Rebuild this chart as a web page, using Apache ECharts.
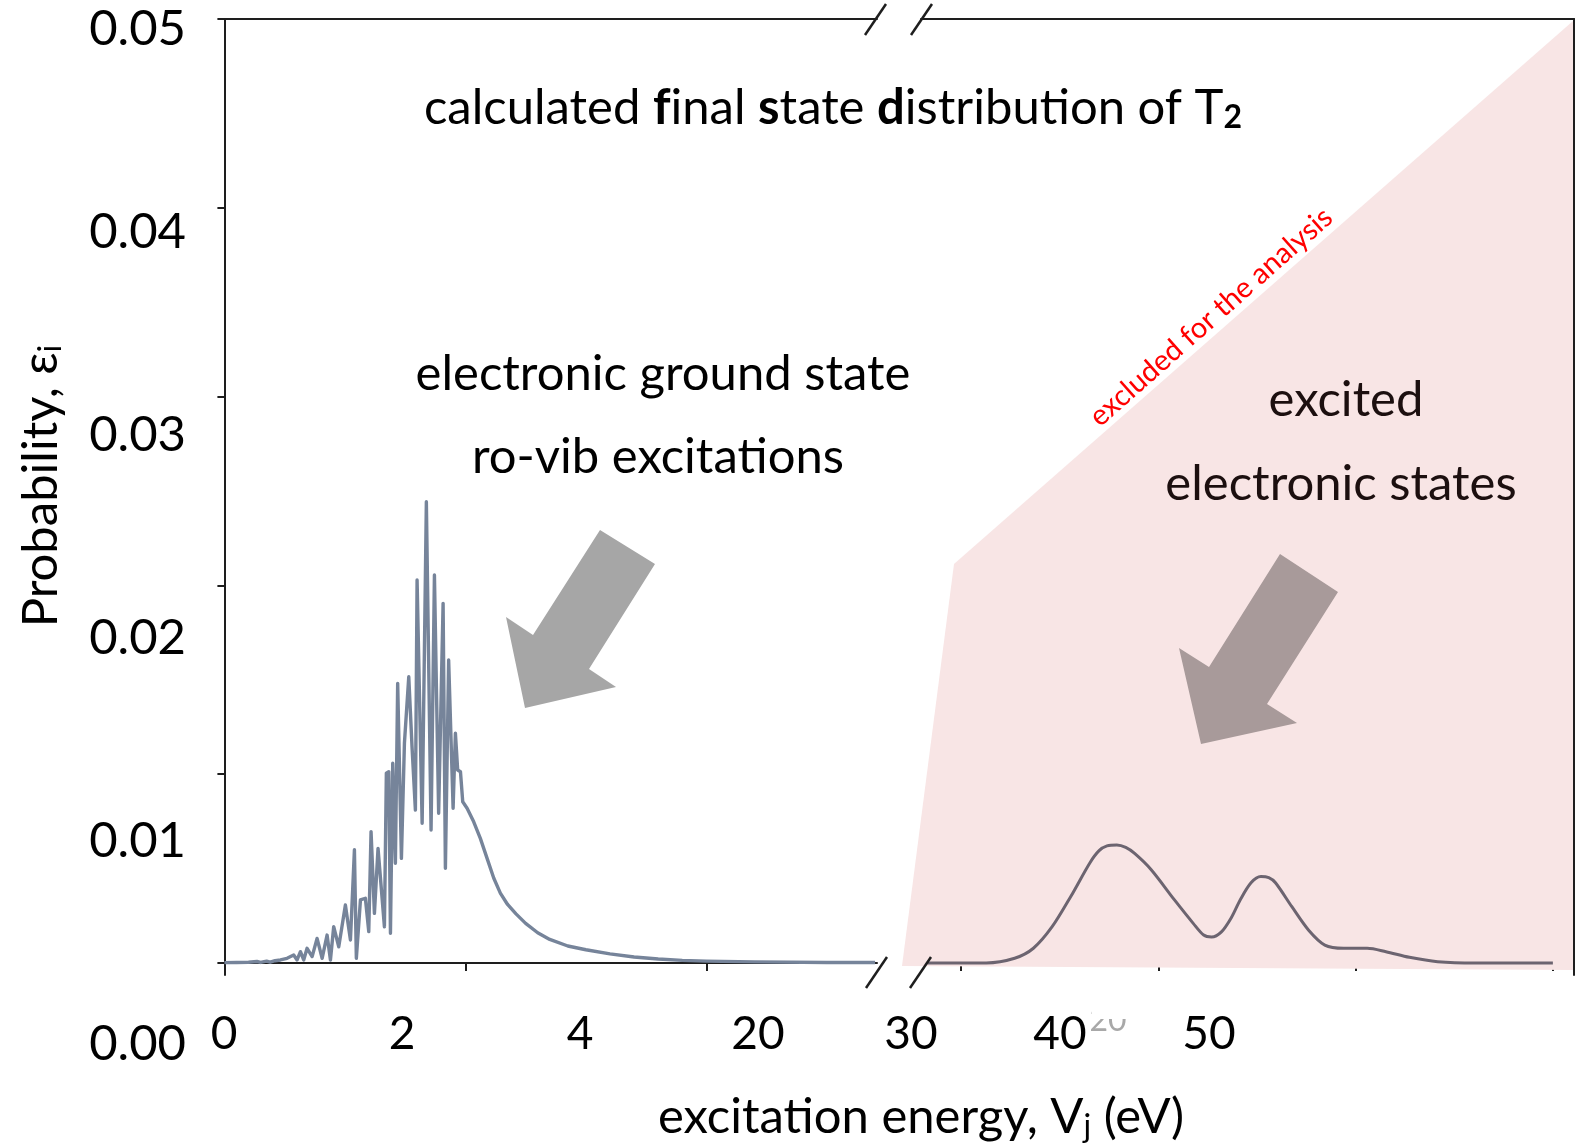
<!DOCTYPE html>
<html><head><meta charset="utf-8">
<script src="https://cdn.jsdelivr.net/npm/echarts@6/dist/echarts.min.js"></script>
<style>html,body{margin:0;padding:0;background:#fff}#chart{width:1587px;height:1148px}</style>
</head><body><div id="chart"></div>
<script>
// ---- data ----
const groundEnergy = [0,0.1,0.2,0.27,0.3,0.35,0.38,0.42,0.465,0.52,0.575,0.603,0.631,0.658,0.686,0.728,0.769,0.811,0.852,0.880,0.907,0.949,1.004,1.046,1.079,1.095,1.129,1.170,1.198,1.217,1.245,1.275,1.328,1.344,1.364,1.378,1.397,1.419,1.438,1.469,1.494,1.530,1.557,1.585,1.599,1.641,1.676,1.715,1.743,1.778,1.815,1.834,1.861,1.898,1.917,1.936,1.959,1.978,2.014,2.069,2.124,2.180,2.235,2.29,2.35,2.42,2.5,2.6,2.7,2.85,3.0,3.2,3.4,3.6,3.8,4.0,4.4,5.0,5.40];
const groundProb = [0.00002,0.00003,0.00004,0.00008,0.00003,0.0001,0.00004,0.00012,0.00016,0.00025,0.00042,0.00016,0.0006,0.00016,0.00078,0.00034,0.0013,0.00025,0.00148,0.00016,0.00192,0.00086,0.00307,0.00122,0.0060,0.00025,0.00334,0.00343,0.00166,0.00696,0.00263,0.00607,0.00192,0.01005,0.01013,0.00157,0.01058,0.00528,0.01481,0.00554,0.01164,0.01516,0.01146,0.0081,0.02029,0.0074,0.02443,0.00704,0.02055,0.00793,0.01905,0.00502,0.01605,0.0082,0.01217,0.01022,0.01013,0.00854,0.0082,0.00748,0.0066,0.00554,0.0045,0.0037,0.0031,0.0026,0.0021,0.0016,0.00125,0.0009,0.0007,0.00048,0.00032,0.00021,0.00014,0.0001,0.00006,0.00003,0.00003];
const excitedEnergy = [18.3,21.28,22.72,23.67,24.62,25.58,26.53,27.0,27.4,27.9,28.35,28.8,29.63,30.82,31.77,32.3,32.7,33.2,33.7,34.15,34.7,35.2,35.6,35.94,36.77,37.61,38.44,39.40,40.59,41.54,42.73,44.16,46.07,50.0];
const excitedProb = [0,0,0.00025,0.00078,0.00192,0.00355,0.0053,0.00595,0.0062,0.00625,0.00612,0.0058,0.00495,0.00334,0.0021,0.00148,0.00138,0.00165,0.0024,0.00334,0.00425,0.00458,0.00452,0.00425,0.00298,0.00175,0.00095,0.00078,0.00078,0.0006,0.0003,0.00007,0,0];

const yTickValues = [0,0.01,0.02,0.03,0.04,0.05];
const yTickLabels = ['0.00','0.01','0.02','0.03','0.04','0.05'];
const lowTickEnergies = [0,2,4];
const highTickEnergies = [20,30,40,50];
const lowTickLabels = ['0','2','4','20'];
const highTickLabels = ['30','40','50'];

const FONT = 'Lato';
const AX = '#1e1e1e';
const TS = 49;      // annotation text size
const SUB = 32;     // subscript size

const chart = echarts.init(document.getElementById('chart'), null, {renderer:'canvas'});

const lineAx = {show:true, lineStyle:{color:AX, width:2}};
function frameX(grid, min, max, pos, ticks){
  return {gridIndex:grid, type:'value', min:min, max:max, position:pos,
    axisLine:lineAx,
    axisTick: ticks ? {show:true, customValues:ticks, length:8, lineStyle:{color:AX,width:2}} : {show:false},
    axisLabel:{show:false}, splitLine:{show:false}};
}

function txt(text, x, y, size, color, rot){
  return {type:'text', x:x, y:y, z:20, rotation:rot||0,
    style:{text:text, x:0, y:0, fontSize:size, fontFamily:FONT, fill:color,
      align:'center', textAlign:'center', verticalAlign:'middle', textVerticalAlign:'middle'}};
}

function rich(color){
  const base = {fontSize:TS, fontFamily:FONT, fill:color, color:color, verticalAlign:'top'};
  const sub = {fontSize:SUB, fontFamily:FONT, fill:color, color:color, verticalAlign:'top', padding:[18,0,0,0]};
  return {
    n:base,
    b:Object.assign({}, base, {fontWeight:'bold'}),
    s:sub,
    sb:Object.assign({}, sub, {fontWeight:'bold'})
  };
}
// rich block anchored at its top; (cx, cy) is the wanted centre of the main-size text
function richTxt(text, cx, cy, color, rot, size){
  const half = TS/2;
  let x = cx, y = cy - half;
  if (rot) { x = cx - half; y = cy; }
  return {type:'text', x:x, y:y, z:20, rotation:rot||0,
    style:{text:text, x:0, y:0, align:'center', textAlign:'center', verticalAlign:'top', textVerticalAlign:'top',
      fontSize:TS, fontFamily:FONT, fill:color, rich:rich(color)}};
}

const option = {
  backgroundColor:'#ffffff',
  animation:false,
  grid:[
    {left:222, top:19, width:655, height:956},
    {left:921, top:19, width:653, height:956},
    {left:190, top:29, width:10, height:1015},
    {left:224, top:1002, width:534, height:32},
    {left:911, top:1002, width:298, height:32}
  ],
  xAxis:[
    frameX(0, -0.02, 5.416, 'bottom', lowTickEnergies),
    frameX(0, -0.02, 5.416, 'top', null),
    frameX(1, 17.973, 51.07, 'bottom', highTickEnergies),
    frameX(1, 17.973, 51.07, 'top', null),
    {gridIndex:2, type:'value', show:false},
    {gridIndex:3, type:'category', data:lowTickLabels, boundaryGap:false, position:'bottom',
      axisLine:{show:false}, axisTick:{show:false},
      axisLabel:{interval:0, margin:0, fontSize:46, fontFamily:FONT, color:'#000', verticalAlign:'middle'}},
    {gridIndex:4, type:'category', data:highTickLabels, boundaryGap:false, position:'bottom',
      axisLine:{show:false}, axisTick:{show:false},
      axisLabel:{interval:0, margin:0, fontSize:46, fontFamily:FONT, color:'#000', verticalAlign:'middle'}}
  ],
  yAxis:[
    {gridIndex:0, type:'value', min:-0.000636, max:0.05, position:'left', axisLine:lineAx,
      axisTick:{show:true, customValues:yTickValues, length:7, lineStyle:{color:AX,width:2}},
      axisLabel:{show:false}, splitLine:{show:false}},
    {gridIndex:1, type:'value', min:-0.000636, max:0.05, position:'right', axisLine:lineAx,
      axisTick:{show:false}, axisLabel:{show:false}, splitLine:{show:false}},
    {gridIndex:2, type:'value', min:0, max:0.05, interval:0.01, position:'left',
      axisLine:{show:false}, axisTick:{show:false}, splitLine:{show:false},
      axisLabel:{show:true, showMinLabel:true, showMaxLabel:true, margin:4, fontSize:49, fontFamily:FONT, color:'#000',
        formatter:v => yTickLabels[Math.round(v/0.01)]}},
    {gridIndex:3, type:'value', show:false},
    {gridIndex:4, type:'value', show:false}
  ],
  series:[
    {type:'line', xAxisIndex:0, yAxisIndex:0, showSymbol:false, z:4,
      lineStyle:{color:'#76849a', width:3.4, join:'round'},
      data:groundEnergy.map((e,i)=>[e, groundProb[i]])},
    {type:'line', xAxisIndex:2, yAxisIndex:1, showSymbol:false, z:4, smooth:0.3,
      lineStyle:{color:'#6c6470', width:3},
      data:excitedEnergy.map((e,i)=>[e, excitedProb[i]])}
  ],
  graphic:[
    {type:'polygon', z:1, shape:{points:[[902,966],[954,564],[1573,21],[1573,970]]}, style:{fill:'#f8e5e5'}},
    {type:'polygon', z:3, shape:{points:[[600,530],[655,564],[589,669],[616,687],[525,708],[506,617],[533,635]]}, style:{fill:'#a6a6a6'}},
    {type:'polygon', z:3, shape:{points:[[1280,554],[1338,592],[1267,704],[1297,723],[1201,744],[1179,648],[1209,667]]}, style:{fill:'#a89a9a'}},
    // axis break marks
    {type:'line', z:10, shape:{x1:865,y1:35,x2:886,y2:4}, style:{stroke:AX, lineWidth:2.5}},
    {type:'line', z:10, shape:{x1:911,y1:35,x2:932,y2:4}, style:{stroke:AX, lineWidth:2.5}},
    {type:'line', z:10, shape:{x1:866,y1:988,x2:887,y2:957}, style:{stroke:AX, lineWidth:2.5}},
    {type:'line', z:10, shape:{x1:910,y1:988,x2:931,y2:957}, style:{stroke:AX, lineWidth:2.5}},
    // texts
    richTxt('{n|calculated }{b|f}{n|inal }{b|s}{n|tate }{b|d}{n|istribution of T}{sb|2}', 833, 108, '#000'),
    txt('electronic ground state', 663, 374, TS, '#000'),
    txt('ro-vib excitations', 658, 457, TS, '#000'),
    txt('excited', 1346, 400, TS, '#1c0f0f'),
    txt('electronic states', 1341, 484, TS, '#1c0f0f'),
    txt('excluded for the analysis', 1211, 317, 29, '#ff0000', 41.5*Math.PI/180),
    txt('20', 1108, 1021, 32, '#a8a8a8'),
    {type:'rect', z:21, shape:{x:1092, y:995, width:34, height:24}, style:{fill:'#ffffff'}},
    richTxt('{n|excitation energy, V}{s|j}{n| (eV)}', 921, 1117, '#000'),
    richTxt('{n|Probability, ε}{s|i}', 41, 486, '#000', Math.PI/2)
  ]
};
chart.setOption(option);
</script>
</body></html>
